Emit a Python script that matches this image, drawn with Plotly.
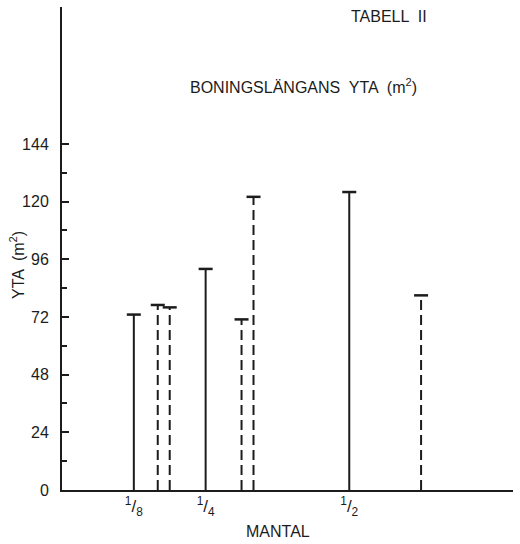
import plotly.graph_objects as go

# ── data ──────────────────────────────────────────────────────────────────────
mantal = [1/8, 1/6, 3/16, 1/4, 5/16, 1/3, 1/2, 5/8]
yta = [73, 77, 76, 92, 71, 122, 124, 81]
dashed = [False, True, True, False, True, True, False, True]

x_ticks = [1/8, 1/4, 1/2]
x_ticktext = ['<sup>1</sup>/<sub>8</sub>', '<sup>1</sup>/<sub>4</sub>', '<sup>1</sup>/<sub>2</sub>']
y_ticks = [0, 24, 48, 72, 96, 120, 144]
y_minor = [12, 36, 60, 84, 108, 132]

INK = '#1c1c1c'
FONT = 'Liberation Sans, Arial, sans-serif'

W, H = 520, 544
L, R, T, B = 62, 7, 7, 54


def stems(flag):
    xs, ys = [], []
    for x, y, d in zip(mantal, yta, dashed):
        if d == flag:
            xs += [x, x, None]
            ys += [0, y, None]
    return xs, ys


fig = go.Figure()
for flag, dash in [(False, 'solid'), (True, '10px,5px')]:
    xs, ys = stems(flag)
    fig.add_trace(go.Scatter(x=xs, y=ys, mode='lines',
                             line=dict(color=INK, width=2, dash=dash),
                             hoverinfo='skip', showlegend=False))

# T-caps at the top of each stem
fig.add_trace(go.Scatter(x=mantal, y=yta, mode='markers',
                         marker=dict(symbol='line-ew', size=10,
                                     line=dict(color=INK, width=2.5)),
                         showlegend=False))

fig.update_layout(
    width=W, height=H,
    margin=dict(l=L, r=R, t=T, b=B),
    plot_bgcolor='white', paper_bgcolor='white',
    font=dict(family=FONT, size=16, color=INK),
    xaxis=dict(range=[0, 0.785], showline=True, linecolor=INK, linewidth=2,
               showgrid=False, zeroline=False, ticks='',
               tickvals=x_ticks, ticktext=x_ticktext,
               tickfont=dict(size=17)),
    yaxis=dict(range=[0, 201], showline=True, linecolor=INK, linewidth=2,
               showgrid=False, zeroline=False,
               tickvals=y_ticks, ticks='inside', ticklen=7, tickwidth=1.5,
               tickcolor=INK, ticklabelstandoff=8, tickfont=dict(size=16),
               minor=dict(tickmode='array', tickvals=y_minor, ticks='inside',
                          ticklen=5, tickwidth=1.5, tickcolor=INK,
                          showgrid=False)),
)

annotations = [
    dict(text='TABELL  II', x=389, y=16),
    dict(text='BONINGSLÄNGANS  YTA  (m<sup>2</sup>)', x=303, y=86),
    dict(text='MANTAL', x=278, y=531),
]
for a in annotations:
    fig.add_annotation(text=a['text'], xref='paper', yref='paper',
                       x=(a['x'] - L) / (W - L - R),
                       y=1 - (a['y'] - T) / (H - T - B),
                       yanchor='middle', xanchor='center',
                       showarrow=False, font=dict(size=16))
fig.add_annotation(text='YTA  (m<sup>2</sup>)', xref='paper', yref='paper',
                   x=(17 - L) / (W - L - R), y=1 - (265 - T) / (H - T - B),
                   xanchor='center', yanchor='middle',
                   textangle=-90, showarrow=False, font=dict(size=16))

fig.write_html('out.html', config={'displayModeBar': False},
               post_script="document.body.style.margin='0';")
